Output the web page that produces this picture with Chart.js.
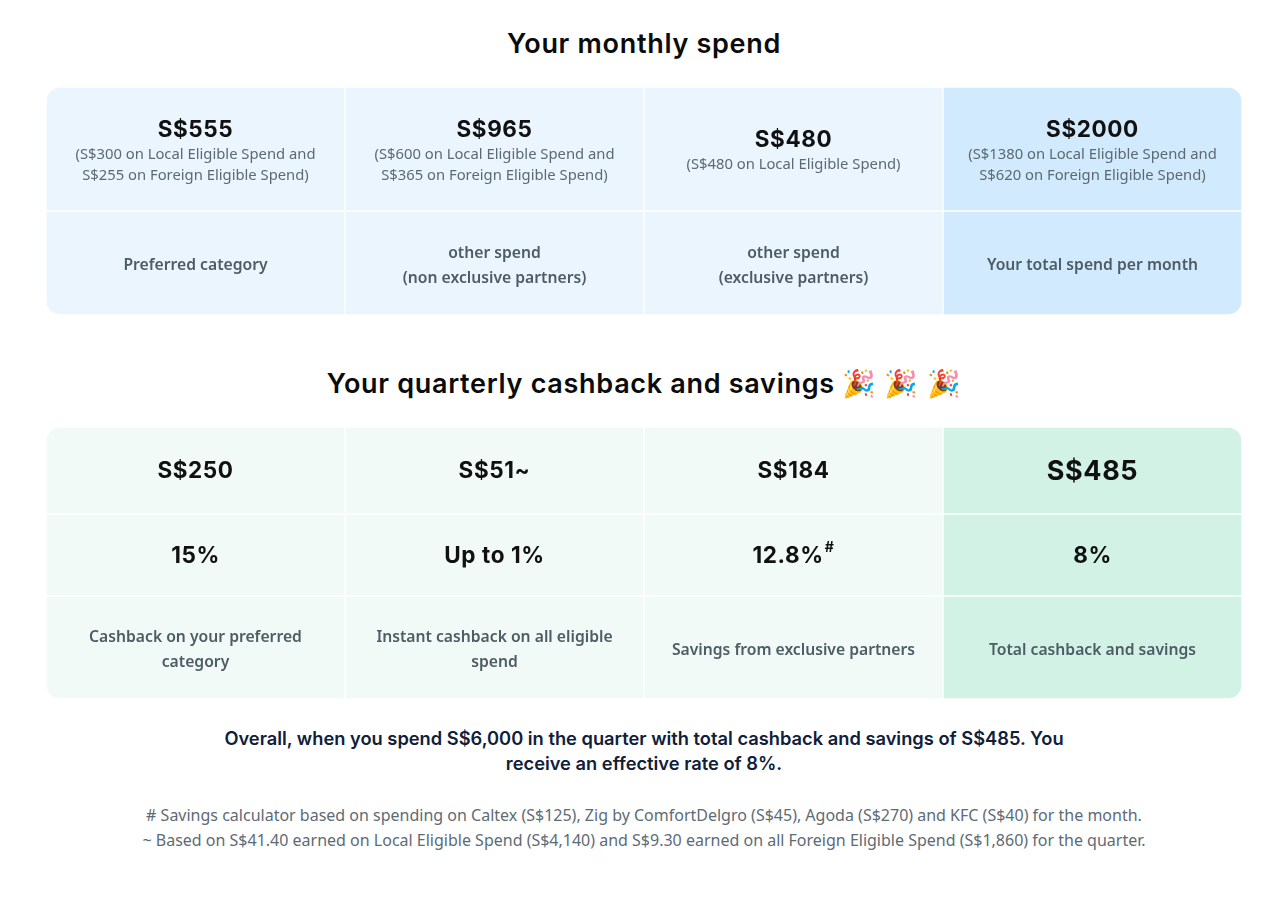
<!DOCTYPE html>
<html>
<head>
<meta charset="utf-8">
<script src="https://cdn.jsdelivr.net/npm/chart.js@4.4.0/dist/chart.umd.min.js"></script>
<style>
  body { margin: 0; background: #fff; width: 1276px; height: 900px; position: relative; overflow: hidden; }
  .title { position: absolute; left: 6px; width: 1276px; text-align: center; font-family: Inter, sans-serif;
           font-weight: 600; font-size: 27px; letter-spacing: 0.7px; line-height: 34px; color: #0b0b0b; }
  .summary { position: absolute; left: 6px; width: 1276px; text-align: center; font-family: Inter, sans-serif;
             font-weight: 600; font-size: 18.3px; line-height: 25px; color: #10203a; }
  .notes { position: absolute; left: 6px; width: 1276px; text-align: center; font-family: 'Noto Sans', sans-serif;
           font-size: 16px; line-height: 25px; color: #5d6b74; }
  canvas { position: absolute; }
</style>
</head>
<body>
<div class="title" style="top:27px">Your monthly spend</div>
<canvas id="spendTable" width="1196" height="228" style="left:46px;top:87px"></canvas>
<div class="title" style="top:367px">Your quarterly cashback and savings 🎉 🎉 🎉</div>
<canvas id="cashbackTable" width="1196" height="272" style="left:46px;top:427px"></canvas>
<div class="summary" style="top:726px">Overall, when you spend S$6,000 in the quarter with total cashback and savings of S$485. You<br>receive an effective rate of 8%.</div>
<div class="notes" style="top:803px"># Savings calculator based on spending on Caltex (S$125), Zig by ComfortDelgro (S$45), Agoda (S$270) and KFC (S$40) for the month.<br>~ Based on S$41.40 earned on Local Eligible Spend (S$4,140) and S$9.30 earned on all Foreign Eligible Spend (S$1,860) for the quarter.</div>

<script>
// --- data ---
const spendAmounts = ['S$555', 'S$965', 'S$480', 'S$2000'];
const spendBreakdown = [
    ['(S$300 on Local Eligible Spend and', 'S$255 on Foreign Eligible Spend)'],
    ['(S$600 on Local Eligible Spend and', 'S$365 on Foreign Eligible Spend)'],
    ['(S$480 on Local Eligible Spend)'],
    ['(S$1380 on Local Eligible Spend and', 'S$620 on Foreign Eligible Spend)']
];
const spendCategories = [
    ['Preferred category'],
    ['other spend', '(non exclusive partners)'],
    ['other spend', '(exclusive partners)'],
    ['Your total spend per month']
];
const cashbackAmounts = ['S$250', 'S$51~', 'S$184', 'S$485'];
const cashbackRates = ['15%', 'Up to 1%', '12.8%', '8%'];
const cashbackRateNotes = ['', '', '#', ''];
const cashbackLabels = [
    ['Cashback on your preferred', 'category'],
    ['Instant cashback on all eligible', 'spend'],
    ['Savings from exclusive partners'],
    ['Total cashback and savings']
];

// --- layout (pixel heights of the table rows, incl. the 1px white edge) ---
const SPEND_ROWS = [124, 104];
const CASHBACK_ROWS = [87, 82, 103];

const VALUE_FONT = '700 22.5px Inter, sans-serif';
const BIG_VALUE_FONT = '700 27px Inter, sans-serif';
const SUB_FONT = '400 14.8px "Noto Sans", sans-serif';
const LABEL_FONT = '600 15.7px "Noto Sans", sans-serif';
const DARK = '#111111';
const SUB_GREY = '#5b6a73';
const LABEL_GREY = '#4d5c65';

// what goes in each cell: list of lines {text, font, color, lh, sup, dy}
function spendCell(row, col) {
    if (row === 0) {
        const lines = [{ text: spendAmounts[col], font: VALUE_FONT, color: DARK, lh: 30, ls: 0.6, dy: 1 }];
        spendBreakdown[col].forEach(t => lines.push({ text: t, font: SUB_FONT, color: SUB_GREY, lh: 21 }));
        return lines;
    }
    return spendCategories[col].map(t => ({ text: t, font: LABEL_FONT, color: LABEL_GREY, lh: 25, dy: 2 }));
}

function cashbackCell(row, col) {
    if (row === 0) {
        return [{ text: cashbackAmounts[col], font: col === 3 ? BIG_VALUE_FONT : VALUE_FONT, color: DARK, lh: 30, ls: 0.6 }];
    }
    if (row === 1) {
        return [{ text: cashbackRates[col], font: VALUE_FONT, color: DARK, lh: 30, ls: 0.6, sup: cashbackRateNotes[col] }];
    }
    return cashbackLabels[col].map(t => ({ text: t, font: LABEL_FONT, color: LABEL_GREY, lh: 25, dy: 2 }));
}

// Plugin: writes the text in the middle of every bar (cell)
const cellTextPlugin = {
    id: 'cellText',
    afterDatasetsDraw(chart, args, opts) {
        const ctx = chart.ctx;
        ctx.save();
        ctx.textAlign = 'left';
        ctx.textBaseline = 'middle';
        chart.data.datasets.forEach((ds, r) => {
            chart.getDatasetMeta(r).data.forEach((bar, c) => {
                const lines = opts.cell(r, c);
                const total = lines.reduce((s, l) => s + l.lh, 0);
                let y = (bar.y + bar.base) / 2 - total / 2 + 1;
                lines.forEach(l => {
                    ctx.letterSpacing = (l.ls || 0) + 'px';
                    ctx.font = l.font;
                    const w = ctx.measureText(l.text).width;
                    let supW = 0;
                    if (l.sup) {
                        ctx.font = '700 14px Inter, sans-serif';
                        supW = ctx.measureText(l.sup).width + 1;
                    }
                    const x0 = bar.x - (w + supW) / 2;
                    const ty = y + l.lh / 2 + (l.dy || 0);
                    ctx.font = l.font;
                    ctx.fillStyle = l.color;
                    ctx.fillText(l.text, x0, ty);
                    if (l.sup) {
                        ctx.font = '700 14px Inter, sans-serif';
                        ctx.fillText(l.sup, x0 + w + 1, ty - 8);
                    }
                    y += l.lh;
                });
            });
        });
        ctx.restore();
    }
};

// round only the outer corners of the whole table
function outerCorners(ctx, nRows, nCols) {
    const r = ctx.datasetIndex, c = ctx.dataIndex, R = 14;
    return {
        topLeft: r === 0 && c === 0 ? R : 0,
        topRight: r === 0 && c === nCols - 1 ? R : 0,
        bottomLeft: r === nRows - 1 && c === 0 ? R : 0,
        bottomRight: r === nRows - 1 && c === nCols - 1 ? R : 0
    };
}

function makeTable(id, rowHeights, fill, highlight, cell) {
    const cols = [0, 1, 2, 3];
    const total = rowHeights.reduce((a, b) => a + b, 0);
    return new Chart(document.getElementById(id), {
        type: 'bar',
        data: {
            labels: cols.map(String),
            datasets: rowHeights.map(h => ({
                data: cols.map(() => h),
                backgroundColor: ctx => ctx.dataIndex === cols.length - 1 ? highlight : fill,
                borderColor: '#ffffff',
                borderWidth: 1,
                borderSkipped: false,
                borderRadius: ctx => outerCorners(ctx, rowHeights.length, cols.length),
                barPercentage: 1,
                categoryPercentage: 1
            }))
        },
        options: {
            responsive: false,
            animation: false,
            layout: { padding: 0 },
            events: [],
            plugins: {
                legend: { display: false },
                tooltip: { enabled: false },
                cellText: { cell: cell }
            },
            scales: {
                x: { stacked: true, display: false },
                y: { stacked: true, display: false, reverse: true, min: 0, max: total }
            }
        },
        plugins: [cellTextPlugin]
    });
}

document.fonts.load('700 22px Inter').then(() => document.fonts.load('600 16px "Noto Sans"')).finally(() => {
    makeTable('spendTable', SPEND_ROWS, '#ebf5fe', '#d2eafd', spendCell);
    makeTable('cashbackTable', CASHBACK_ROWS, '#f1faf7', '#d2f2e5', cashbackCell);
});
</script>
</body>
</html>
